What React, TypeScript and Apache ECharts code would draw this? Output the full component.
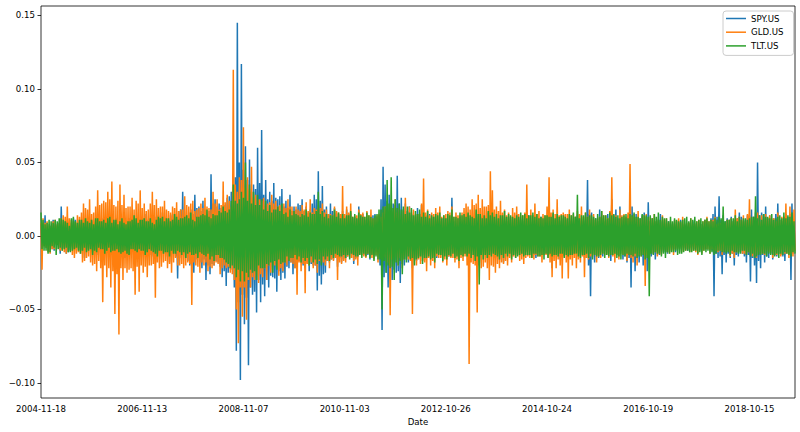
import React, { useEffect, useRef } from "react";
import * as echarts from "echarts";

const seriesNames = ["SPY.US", "GLD.US", "TLT.US"];
const seriesColors = ["#1f77b4", "#ff7f0e", "#2ca02c"];
const tickIndices = [0, 500, 1000, 1500, 2000, 2500, 3000, 3500];
const tickDates = ["2004-11-18", "2006-11-13", "2008-11-07", "2010-11-03", "2012-10-26", "2014-10-24", "2016-10-19", "2018-10-15"];
const yTicks = [-0.1, -0.05, 0, 0.05, 0.1, 0.15];
const lastIndex = 3725;
const sampleStep = 5; // trading days between samples
const yMin = -0.1102;
const yMax = 0.1564;

// daily returns, in thousandths (sampled every 5 trading days)
const spyMilli = [
  8,-7,9,-6,14,-8,6,-10,5,-11,7,-9,11,-10,8,-4,7,-6,9,-12,
  20,-9,7,-8,10,-12,8,-11,6,-10,9,-7,12,-6,11,-9,4,-8,7,-10,
  9,-10,8,-15,6,-9,12,-8,11,-7,10,-5,8,-11,7,-13,10,-9,11,-6,
  12,-8,10,-9,5,-11,7,-12,8,-10,9,-7,10,-6,12,-11,6,-9,10,-8,
  11,-10,9,-15,7,-12,8,-9,12,-11,10,-6,9,-8,11,-14,5,-13,9,-10,
  13,-9,12,-11,15,-10,11,-8,10,-13,9,-14,7,-10,13,-12,14,-11,12,-9,
  16,-10,13,-12,9,-14,11,-18,14,-12,15,-10,12,-14,10,-29,17,-15,18,-13,
  30,-12,14,-15,11,-17,16,-20,18,-13,15,-25,28,-16,19,-14,20,-18,17,-22,
  24,-16,18,-30,15,-20,17,-26,42,-19,22,-20,25,-17,20,-18,22,-21,19,-28,
  20,-24,21,-34,26,-25,27,-22,30,-23,28,-35,40,-78,145,-45,50,-98,117,-40,
  45,-60,61,-42,38,-88,52,-35,30,-40,35,-38,32,-52,60,-30,36,-45,72,-33,
  28,-41,38,-30,25,-35,30,-27,24,-28,36,-29,26,-38,25,-24,27,-30,32,-25,
  20,-29,24,-21,19,-22,28,-18,17,-26,20,-22,18,-25,22,-17,21,-18,25,-20,
  17,-22,20,-18,16,-24,18,-19,22,-20,28,-20,25,-37,44,-27,24,-33,34,-26,
  18,-25,20,-17,15,-18,22,-16,17,-16,19,-14,16,-21,15,-15,14,-18,17,-16,
  13,-15,18,-14,15,-12,16,-13,12,-19,13,-15,11,-14,20,-12,14,-11,15,-13,
  11,-14,12,-13,10,-16,10,-12,14,-13,15,-11,13,-11,14,-20,25,-64,47,-28,
  35,-25,24,-35,28,-22,20,-30,22,-23,21,-25,41,-24,22,-32,26,-19,18,-20,
  22,-16,17,-18,20,-15,14,-22,15,-16,13,-17,19,-14,15,-14,21,-13,14,-16,
  14,-11,10,-12,15,-12,13,-10,13,-9,11,-15,11,-12,10,-13,12,-11,12,-9,
  12,-10,11,-14,10,-9,26,-11,10,-12,9,-13,12,-15,13,-10,9,-10,11,-12,
  10,-13,15,-11,12,-11,12,-10,11,-14,10,-12,9,-16,12,-11,13,-9,14,-10,
  11,-12,16,-10,12,-10,13,-11,9,-15,11,-12,10,-12,14,-13,11,-18,10,-9,
  10,-11,13,-12,11,-14,9,-10,12,-12,15,-9,11,-10,11,-12,10,-13,12,-11,
  11,-9,14,-10,9,-12,10,-13,10,-15,8,-11,12,-11,13,-9,11,-10,12,-12,
  10,-14,11,-13,12,-22,15,-10,11,-12,13,-12,9,-16,10,-11,12,-13,14,-10,
  11,-10,12,-9,10,-13,9,-12,13,-11,14,-10,9,-12,10,-11,10,-15,11,-9,
  38,-20,15,-41,16,-12,11,-18,12,-13,10,-15,18,-11,12,-14,10,-10,11,-12,
  15,-12,13,-17,25,-11,14,-12,18,-13,12,-14,20,-10,11,-16,12,-14,12,-18,
  14,-15,16,-35,20,-14,13,-24,15,-15,12,-18,12,-13,14,-20,16,-12,13,-24,
  23,-11,10,-14,12,-12,9,-16,10,-10,11,-13,15,-9,10,-11,9,-11,8,-12,
  10,-7,8,-8,9,-9,7,-11,7,-8,9,-9,11,-6,8,-8,6,-9,7,-10,
  9,-8,7,-7,10,-9,8,-8,6,-7,9,-10,8,-8,7,-9,11,-9,8,-7,
  8,-9,12,-10,15,-41,20,-12,13,-15,27,-14,11,-26,14,-13,10,-18,12,-12,
  11,-15,13,-12,10,-20,11,-13,12,-14,16,-11,13,-12,10,-14,11,-18,14,-13,
  14,-31,18,-15,13,-20,16,-32,50,-17,14,-22,16,-13,15,-18,20,-14,12,-15,
  14,-12,11,-16,12,-13,15,-14,22,-12,11,-13,10,-14,12,-17,15,-11,13,-12,
  15,-30,22,-12,8,-10,
];

const gldMilli = [
  9,-23,12,-7,9,-8,10,-11,8,-12,7,-9,10,-9,11,-6,8,-6,9,-10,
  12,-10,14,-11,13,-12,20,-10,12,-8,11,-13,10,-15,9,-12,14,-11,13,-12,
  16,-18,22,-17,19,-15,18,-14,25,-18,15,-20,16,-19,20,-24,31,-17,21,-22,
  22,-45,24,-20,23,-28,30,-22,25,-35,37,-24,21,-53,20,-26,24,-67,35,-22,
  21,-30,28,-22,19,-25,20,-23,20,-22,26,-24,18,-40,24,-21,22,-38,31,-20,
  19,-25,22,-21,17,-28,18,-20,22,-20,30,-19,21,-42,25,-18,19,-22,20,-21,
  20,-18,24,-17,18,-22,17,-19,16,-25,20,-18,19,-15,23,-20,17,-20,18,-19,
  18,-22,27,-20,21,-18,20,-19,22,-47,24,-18,17,-20,18,-21,19,-25,22,-18,
  19,-20,26,-18,20,-24,19,-21,18,-22,30,-20,22,-18,25,-19,18,-26,21,-22,
  37,-20,23,-22,28,-21,24,-25,20,-26,113,-30,35,-50,30,-73,40,-35,38,-55,
  74,-35,33,-57,40,-30,32,-35,47,-28,26,-30,28,-27,25,-32,25,-26,24,-28,
  26,-22,21,-30,22,-20,23,-25,28,-19,22,-20,24,-21,20,-27,21,-22,19,-24,
  22,-18,19,-20,25,-17,20,-18,20,-19,17,-22,20,-40,18,-18,17,-24,21,-19,
  18,-39,23,-19,17,-20,25,-18,16,-22,19,-20,18,-25,20,-17,19,-18,22,-18,
  16,-20,18,-17,15,-22,15,-16,14,-17,20,-15,17,-30,16,-18,15,-19,34,-17,
  15,-18,20,-14,16,-15,22,-15,13,-17,14,-16,14,-20,18,-13,15,-13,16,-14,
  13,-15,17,-12,14,-13,18,-15,12,-16,12,-13,14,-18,15,-12,13,-14,16,-14,
  20,-15,16,-18,18,-54,22,-16,17,-15,25,-14,16,-20,18,-15,14,-22,17,-16,
  26,-14,15,-16,20,-17,16,-53,18,-15,14,-20,15,-16,15,-19,22,-17,39,-18,
  16,-24,18,-15,14,-20,16,-17,15,-22,19,-14,16,-15,20,-15,13,-18,14,-16,
  15,-20,17,-14,16,-15,20,-15,13,-18,16,-16,14,-22,14,-15,16,-17,19,-14,
  22,-20,20,-87,18,-18,25,-19,21,-20,22,-52,28,-20,19,-22,25,-21,20,-18,
  20,-22,21,-30,44,-20,31,-21,18,-25,20,-19,17,-22,24,-18,16,-19,18,-17,
  14,-20,16,-15,13,-18,19,-14,16,-15,20,-13,15,-17,14,-16,14,-19,16,-15,
  35,-14,13,-15,18,-15,14,-16,22,-13,15,-14,17,-14,12,-18,15,-13,14,-13,
  20,-15,40,-18,16,-28,18,-17,15,-22,25,-16,14,-20,15,-29,16,-14,15,-18,
  15,-29,18,-16,14,-20,15,-15,13,-22,17,-16,15,-18,20,-14,13,-28,16,-15,
  13,-16,18,-14,12,-14,15,-13,11,-18,12,-14,13,-15,17,-12,14,-13,14,-13,
  12,-15,17,-13,40,-14,12,-18,14,-13,11,-16,18,-12,14,-13,15,-12,13,-17,
  16,-13,49,-15,13,-18,15,-14,12,-20,17,-13,11,-14,13,-12,14,-34,15,-13,
  11,-15,13,-10,12,-12,15,-11,10,-14,11,-12,9,-13,14,-10,11,-10,12,-11,
  9,-12,10,-10,8,-13,11,-9,10,-9,12,-8,9,-11,13,-10,8,-10,9,-9,
  9,-11,12,-10,8,-10,9,-11,10,-13,11,-9,8,-12,10,-10,11,-9,13,-9,
  10,-12,11,-9,11,-10,13,-10,8,-11,9,-10,9,-13,12,-11,9,-10,11,-10,
  11,-14,12,-12,10,-15,18,-11,12,-11,13,-10,11,-12,14,-12,10,-13,15,-11,
  25,-12,11,-14,13,-13,12,-15,16,-11,10,-12,14,-12,11,-13,15,-10,12,-11,
  14,-11,12,-15,12,-13,10,-13,16,-12,11,-14,13,-10,13,-12,22,-12,11,-15,
  20,-12,11,-14,18,-10,
];

const tltMilli = [
  16,-9,11,-10,8,-10,9,-12,11,-11,10,-7,9,-8,11,-13,10,-9,12,-8,
  12,-10,11,-9,10,-8,9,-11,7,-11,12,-10,13,-9,10,-8,9,-10,11,-12,
  11,-10,9,-8,12,-11,10,-10,9,-9,11,-13,8,-10,12,-11,12,-8,10,-9,
  10,-9,11,-12,9,-10,12,-8,13,-11,9,-10,11,-10,11,-9,8,-11,10,-12,
  12,-11,9,-10,8,-12,10,-13,10,-9,11,-9,14,-10,12,-11,9,-9,11,-10,
  11,-10,12,-13,10,-11,10,-9,12,-10,9,-11,8,-12,11,-14,13,-10,12,-10,
  13,-12,10,-11,12,-11,12,-14,10,-10,11,-12,15,-12,13,-10,11,-11,12,-13,
  12,-11,13,-15,14,-12,12,-11,16,-13,11,-13,10,-12,13,-15,13,-11,14,-12,
  15,-13,14,-14,18,-12,13,-16,12,-14,15,-17,14,-13,14,-13,17,-15,16,-15,
  20,-16,17,-18,16,-19,18,-22,24,-20,35,-22,24,-28,22,-23,25,-31,30,-24,
  26,-31,50,-25,24,-28,35,-23,22,-25,30,-24,21,-30,28,-20,21,-22,25,-22,
  18,-22,24,-19,17,-20,21,-18,16,-25,18,-17,18,-23,20,-16,17,-19,22,-18,
  15,-18,16,-14,13,-17,18,-15,14,-15,17,-13,15,-16,14,-14,13,-18,15,-15,
  14,-17,18,-15,13,-20,16,-14,15,-18,15,-16,17,-19,30,-16,15,-20,17,-14,
  13,-16,15,-14,12,-17,14,-13,14,-15,18,-12,13,-13,16,-14,12,-14,15,-13,
  12,-15,14,-13,14,-16,17,-12,13,-13,15,-14,12,-14,16,-13,14,-15,13,-12,
  13,-14,16,-12,14,-15,13,-13,12,-17,14,-14,15,-16,18,-16,18,-50,20,-17,
  20,-25,38,-20,22,-22,40,-21,19,-30,25,-18,19,-20,22,-17,18,-26,20,-16,
  15,-18,20,-14,16,-16,19,-15,14,-20,17,-16,15,-15,18,-14,13,-19,16,-15,
  13,-15,17,-14,12,-16,14,-15,13,-18,15,-12,14,-13,16,-13,12,-17,14,-14,
  12,-16,15,-13,14,-14,18,-12,13,-15,13,-14,12,-17,16,-13,14,-14,15,-12,
  13,-14,16,-12,14,-15,13,-13,12,-17,18,-14,15,-33,15,-13,12,-16,14,-13,
  12,-15,17,-13,14,-14,16,-12,13,-13,15,-14,12,-16,14,-13,14,-15,17,-12,
  13,-14,15,-12,14,-16,13,-13,12,-15,14,-14,13,-13,16,-12,14,-14,15,-13,
  12,-13,14,-13,14,-15,16,-12,13,-12,15,-14,12,-14,13,-13,12,-16,14,-12,
  14,-15,13,-12,13,-14,16,-13,12,-13,15,-14,13,-12,14,-12,14,-15,13,-13,
  12,-14,15,-13,14,-13,16,-12,13,-12,28,-14,12,-15,14,-13,14,-13,16,-12,
  13,-15,14,-12,14,-16,13,-13,12,-14,15,-14,13,-13,17,-12,14,-15,14,-13,
  12,-14,16,-13,14,-13,15,-12,13,-15,14,-14,12,-16,13,-13,14,-14,15,-12,
  12,-13,15,-13,14,-14,16,-12,13,-15,13,-14,12,-14,15,-13,14,-16,14,-15,
  13,-41,14,-12,12,-13,15,-11,13,-12,16,-12,11,-14,13,-12,12,-15,12,-11,
  10,-12,13,-11,10,-11,12,-10,11,-13,10,-12,10,-12,11,-11,12,-10,13,-10,
  10,-11,12,-11,11,-10,13,-10,10,-12,11,-11,12,-13,10,-10,11,-11,12,-10,
  10,-12,11,-11,10,-13,12,-12,11,-10,13,-10,12,-11,20,-11,10,-12,11,-11,
  11,-13,12,-10,12,-11,14,-11,10,-12,13,-12,11,-10,12,-10,12,-13,11,-11,
  12,-14,13,-12,13,-15,27,-14,12,-13,14,-13,11,-12,15,-12,13,-14,13,-12,
  12,-13,15,-13,11,-14,12,-12,13,-15,14,-12,12,-13,16,-11,12,-12,14,-13,
  13,-14,16,-11,10,-12,
];

const allSeries = [spyMilli, gldMilli, tltMilli];
const FONT = "DejaVu Sans";
const FS = 8.6;

export default function App() {
  const ref = useRef<HTMLDivElement>(null);
  useEffect(() => {
    if (!ref.current) return;
    const chart = echarts.init(ref.current, undefined, { renderer: "svg" });
    const fmtY = (v: number) => {
      const s = Math.abs(v).toFixed(2);
      return v < -1e-9 ? "\u2212" + s : s;
    };
    chart.setOption({
      animation: false,
      backgroundColor: "#fff",
      textStyle: { fontFamily: FONT },
      grid: {
        left: 41, right: 5, top: 6, bottom: 34,
        show: true, borderColor: "#000", borderWidth: 0.8, backgroundColor: "transparent",
      },
      legend: {
        data: seriesNames.map((n) => ({ name: n, icon: "rect" })),
        orient: "vertical",
        left: 723,
        top: 11,
        itemWidth: 20,
        itemHeight: 1.5,
        itemGap: 4.7,
        padding: [3, 10, 5, 3],
        borderColor: "#ccc",
        borderWidth: 1,
        borderRadius: 3,
        backgroundColor: "rgba(255,255,255,0.8)",
        textStyle: { fontSize: FS, color: "#000", fontFamily: FONT },
      },
      xAxis: {
        type: "value",
        min: 0,
        max: lastIndex,
        name: "Date",
        nameLocation: "middle",
        nameGap: 19,
        nameTextStyle: { fontSize: FS, color: "#000", fontFamily: FONT },
        axisLine: { show: false },
        splitLine: { show: false },
        axisTick: {
          show: true, length: 3.5, customValues: tickIndices,
          lineStyle: { color: "#000", width: 0.8 },
        },
        axisLabel: {
          customValues: tickIndices,
          margin: 6,
          fontSize: FS,
          color: "#000",
          fontFamily: FONT,
          formatter: (v: number) => {
            const i = tickIndices.indexOf(Math.round(v));
            return i >= 0 ? tickDates[i] : "";
          },
        },
      },
      yAxis: {
        type: "value",
        min: yMin,
        max: yMax,
        axisLine: { show: false },
        splitLine: { show: false },
        axisTick: {
          show: true, length: 3.5, customValues: yTicks,
          lineStyle: { color: "#000", width: 0.8 },
        },
        axisLabel: {
          customValues: yTicks,
          margin: 6,
          fontSize: FS,
          color: "#000",
          fontFamily: FONT,
          formatter: fmtY,
        },
      },
      series: allSeries.map((arr, si) => ({
        name: seriesNames[si],
        type: "line",
        showSymbol: false,
        symbol: "none",
        color: seriesColors[si],
        lineStyle: { width: 1.5, color: seriesColors[si], join: "bevel" },
        data: arr.map((v, i) => [i * sampleStep, v / 1000]),
      })),
    });
    return () => chart.dispose();
  }, []);
  return (
    <div
      ref={ref}
      style={{ position: "fixed", left: 0, top: 0, width: 800, height: 432 }}
    />
  );
}
